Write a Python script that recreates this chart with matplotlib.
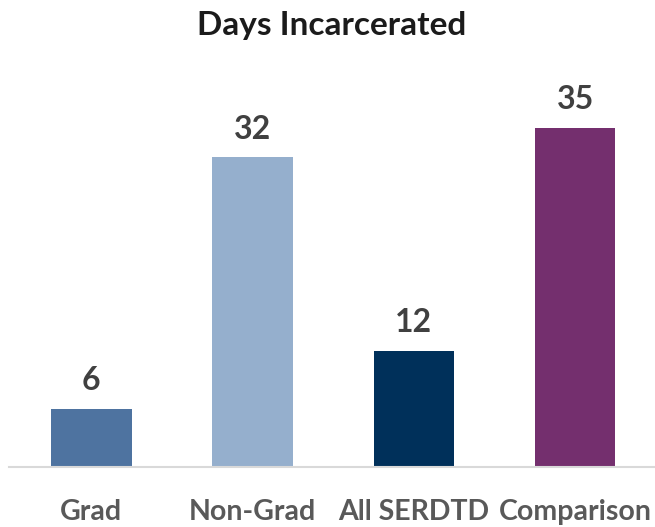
import matplotlib.pyplot as plt

categories = ["Grad", "Non-Grad", "All SERDTD", "Comparison"]
days = [6, 32, 12, 35]
colors = ["#4E73A0", "#95AFCD", "#00305A", "#742F6E"]

plt.rcParams["font.family"] = ["Lato", "DejaVu Sans"]

fig = plt.figure(figsize=(6.55, 5.27), dpi=100)
ax = fig.add_axes([9 / 655, 1 - 467 / 527, 646 / 655, (467 - 80) / 527])

bars = ax.bar(range(len(categories)), days, width=0.5, color=colors)
for bar, v in zip(bars, days):
    ax.annotate(str(v), (bar.get_x() + bar.get_width() / 2, v),
                xytext=(0, 10), textcoords="offset points",
                ha="center", va="bottom", fontsize=23, fontweight="bold",
                color="#404040")

ax.set_xlim(-0.51, 3.495)
ax.set_ylim(0, 40)
ax.set_xticks(range(len(categories)))
ax.set_xticklabels(categories, fontsize=20.5, fontweight="bold", color="#595959")
ax.tick_params(axis="x", length=0, pad=23)
ax.set_yticks([])
for side in ["top", "right", "left"]:
    ax.spines[side].set_visible(False)
ax.spines["bottom"].set_color("#D9D9D9")
ax.spines["bottom"].set_linewidth(1.5)

fig.text(332 / 655, 1 - 25 / 527, "Days Incarcerated", ha="center", va="center",
         fontsize=24, fontweight="bold", color="#1B1B1B")

fig.savefig("out.png", dpi=100)
